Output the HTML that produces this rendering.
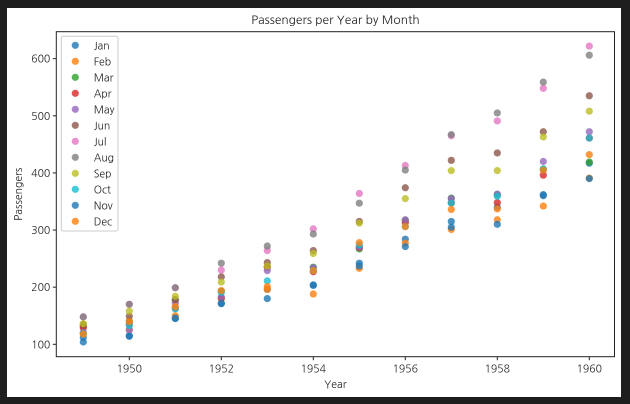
<!DOCTYPE html>
<html><head><meta charset="utf-8">
<style>
html,body{margin:0;padding:0;background:#1e1e1e;}
svg{display:block;font-family:"NanumGothic","Liberation Sans",sans-serif;}
</style></head>
<body>
<svg id="chart" width="630" height="404">
<rect x="7" y="8" width="614" height="389" fill="#fff"/>
<g id="plot"></g>
</svg>
<script>
const years=[1949,1950,1951,1952,1953,1954,1955,1956,1957,1958,1959,1960];
const months=["Jan","Feb","Mar","Apr","May","Jun","Jul","Aug","Sep","Oct","Nov","Dec"];
const jan=[112,115,145,171,196,204,242,284,315,340,360,417];
const feb=[118,126,150,180,196,188,233,277,301,318,342,391];
const mar=[132,141,178,193,236,235,267,317,356,362,406,419];
const apr=[129,135,163,181,235,227,269,313,348,348,396,461];
const may=[121,125,172,183,229,234,270,318,355,363,420,472];
const jun=[135,149,178,218,243,264,315,374,422,435,472,535];
const jul=[148,170,199,230,264,302,364,413,465,491,548,622];
const aug=[148,170,199,242,272,293,347,405,467,505,559,606];
const sep=[136,158,184,209,237,259,312,355,404,404,463,508];
const oct=[119,133,162,191,211,229,274,306,347,359,407,461];
const nov=[104,114,146,172,180,203,237,271,305,310,362,390];
const dec=[118,140,166,194,201,229,278,306,336,337,405,432];
const seriesList=[jan,feb,mar,apr,may,jun,jul,aug,sep,oct,nov,dec];
const colors=["#1f77b4","#ff7f0e","#2ca02c","#d62728","#9467bd","#8c564b","#e377c2","#7f7f7f","#bcbd22","#17becf","#1f77b4","#ff7f0e"];
const xTicks=[1950,1952,1954,1956,1958,1960];
const yTicks=[100,200,300,400,500,600];

const L=56.3,R=614.5,T=31.7,B=356.7;
const xs=v=>129.3+(v-1950)*46;
const ys=v=>344.3-(v-100)*0.5713;
const NS="http://www.w3.org/2000/svg";
const g=document.getElementById('plot');
function mk(tag,attrs,parent){const e=document.createElementNS(NS,tag);for(const k in attrs)e.setAttribute(k,attrs[k]);(parent||g).appendChild(e);return e;}

const title=mk('text',{x:(L+R)/2,y:24,'text-anchor':'middle','font-size':12,fill:'#222'});
title.textContent="Passengers per Year by Month";



seriesList.forEach((s,i)=>{
  const grp=mk('g',{});
  
  
  s.forEach((v,j)=>{
    const c=mk('circle',{cx:xs(years[j]),cy:ys(v),r:3.6,fill:colors[i],'fill-opacity':0.8},grp);
    
    
  });
});

const frame=mk('rect',{x:L,y:T,width:R-L,height:B-T,fill:'none',stroke:'#222','stroke-width':1});



xTicks.forEach(t=>{
  const x=xs(t);
  const tk=mk('line',{x1:x,x2:x,y1:B,y2:B+3.5,stroke:'#222'});
  
  
  const lb=mk('text',{x:x,y:B+16,'text-anchor':'middle','font-size':10.5,fill:'#222'});
  lb.textContent=t;
  
  
});
yTicks.forEach(t=>{
  const y=ys(t);
  const tk=mk('line',{x1:L-3.5,x2:L,y1:y,y2:y,stroke:'#222'});
  
  
  const lb=mk('text',{x:L-6,y:y+4,'text-anchor':'end','font-size':10.5,fill:'#222'});
  lb.textContent=t;
  
  
});
const xl=mk('text',{x:(L+R)/2,y:388,'text-anchor':'middle','font-size':10.5,fill:'#222'});
xl.textContent="Year";


const yl=mk('text',{x:0,y:0,'text-anchor':'middle','font-size':10.5,fill:'#222',transform:'translate(22,'+((T+B)/2)+') rotate(-90)'});
yl.textContent="Passengers";



const lg=mk('g',{});


mk('rect',{x:61.3,y:36.3,width:56.7,height:194.7,rx:2,fill:'#fff','fill-opacity':0.8,stroke:'#ccc'},lg);
months.forEach((m,i)=>{
  const y=45.3+i*16;
  const e=mk('g',{},lg);
  
  
  mk('circle',{cx:75.3,cy:y,r:3.6,fill:colors[i],'fill-opacity':0.8},e);
  const t=mk('text',{x:93.7,y:y+4,'font-size':10.5,fill:'#222'},e);
  t.textContent=m;
});
</script>
</body></html>
